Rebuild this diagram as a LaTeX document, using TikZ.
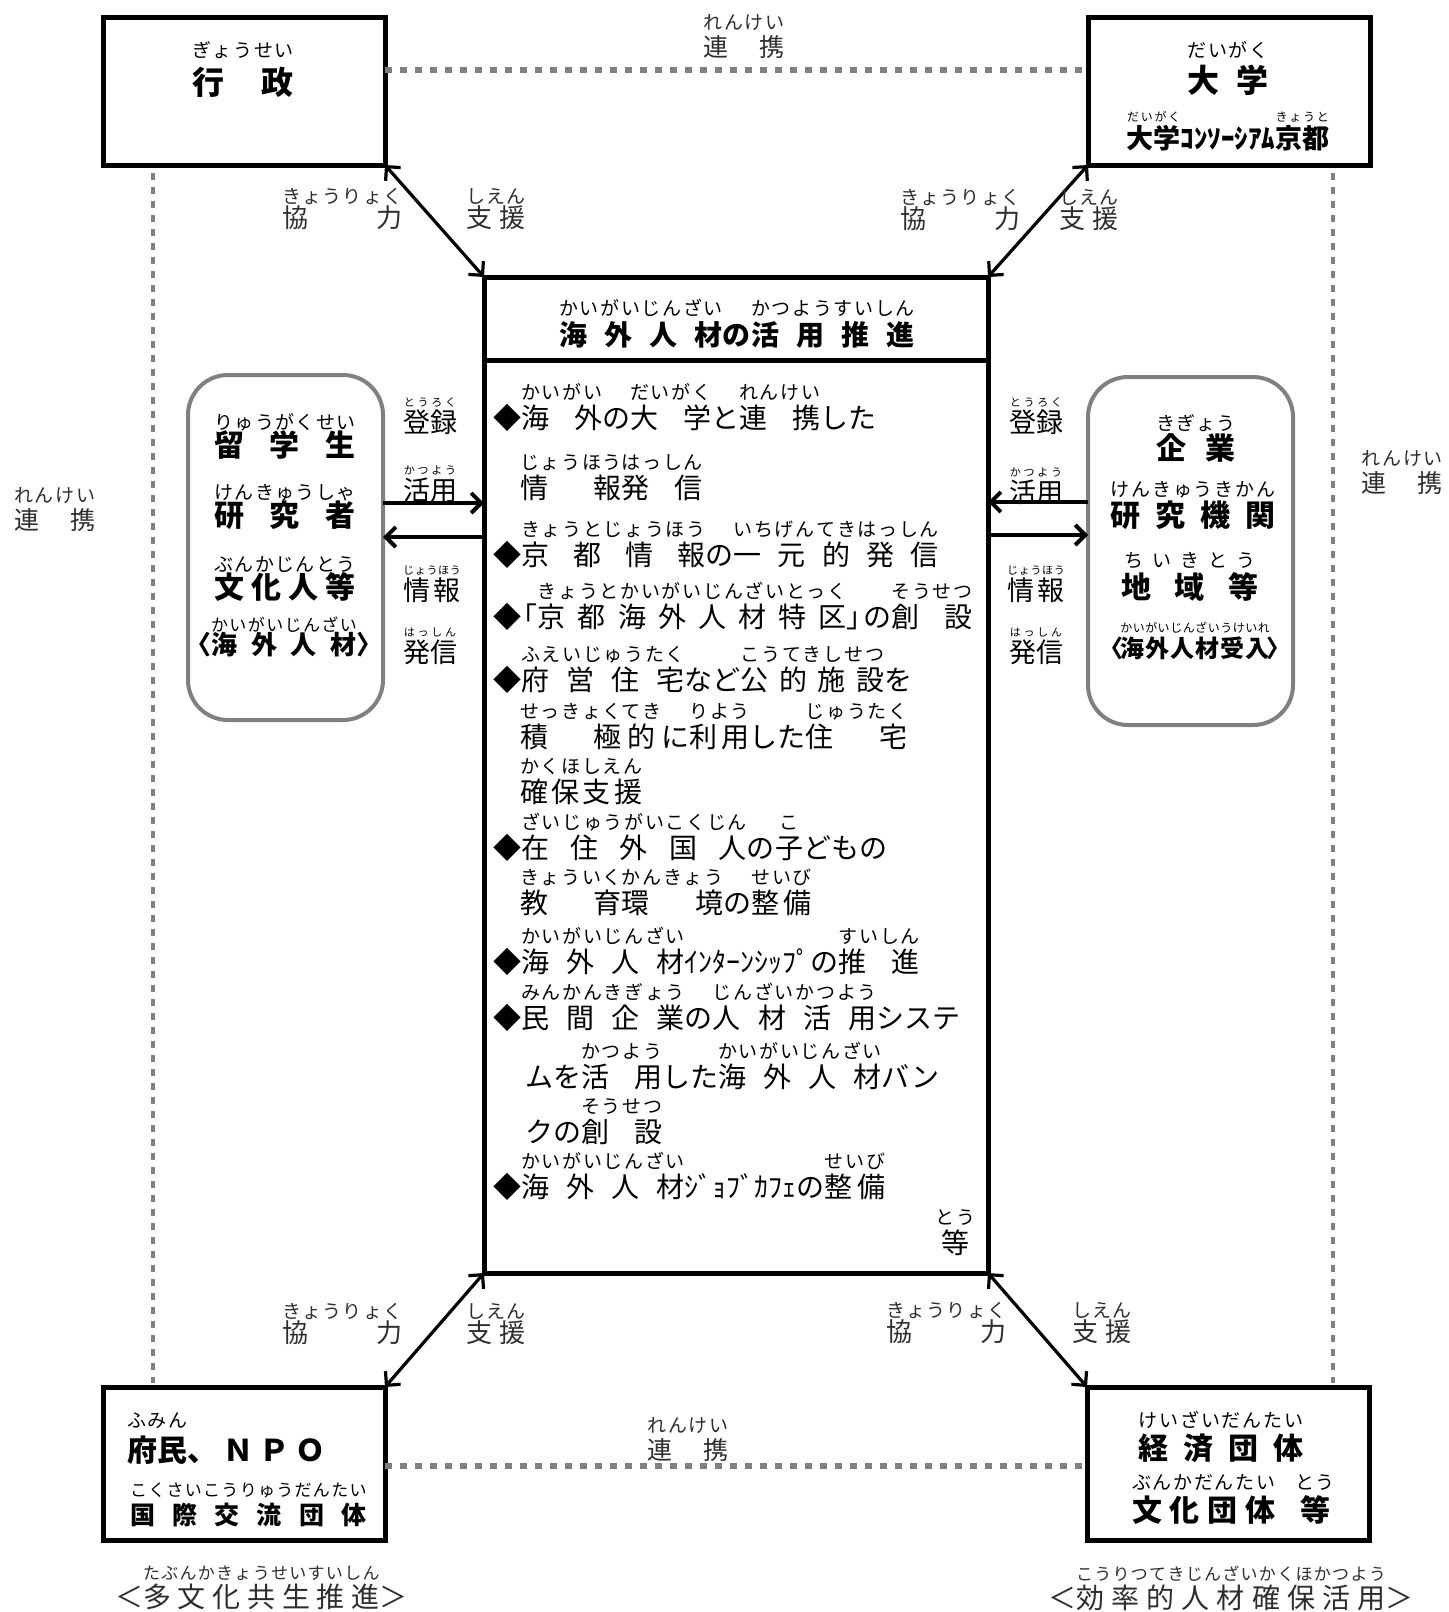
\documentclass[tikz,border=0pt]{standalone}
\usepackage{fontspec}
\setmainfont{Noto Sans CJK JP}
\usetikzlibrary{arrows.meta}
\definecolor{lgray}{HTML}{808080}
\definecolor{tgray}{HTML}{2E2E2E}
\newdimen\Rw \newdimen\rubysp \newdimen\rubyraise
\def\rubysz{8.5}
\def\rubyfnt{\normalfont\fontsize{\rubysz}{\rubysz}\selectfont}
\def\interleave#1#2{\def\ilsep{#1}\ilfirst#2\relax}
\def\ilfirst#1{\ifx#1\relax\else#1\expandafter\ilrest\fi}
\def\ilrest#1{\ifx#1\relax\else\ilsep#1\expandafter\ilrest\fi}
\newcommand\rbset[3]{\def\rubysz{#1}\rubysp=\dimexpr #2pt-#1pt\relax\rubyraise=#3pt\relax}
\newcommand\rb[3][0pt]{\leavevmode
 \setbox0\hbox{#2}%
 \setbox2\hbox{\rubyfnt\interleave{\hskip\rubysp}{#3}}%
 \Rw=#1\relax
 \ifdim\wd0>\Rw \Rw=\wd0 \fi
 \ifdim\wd2>\Rw \Rw=\wd2 \fi
 \hbox to\Rw{\rlap{\raise\rubyraise\hbox to\Rw{\rubyfnt\hskip0pt plus .5fil\interleave{\hskip\rubysp plus 1fil}{#3}\hskip0pt plus .5fil}}%
 \hskip0pt plus .001fil\interleave{\hfil}{#2}\hskip0pt plus .001fil}}
\tikzset{
 bx/.style={draw, line width=2.5pt, rectangle, inner sep=0, outer sep=0},
 rbx/.style={draw=lgray, line width=2pt, rounded corners=20pt, rectangle, inner sep=0, outer sep=0},
 txt/.style={inner sep=0, outer sep=0},
 soft/.style={txt, text=tgray},
 lst/.style={txt, anchor=base west, font=\fontsize{14}{14}\selectfont\rbset{9.5}{10.35}{14.4}},
 bigt/.style={txt, anchor=base, font=\bfseries\fontsize{15}{15}\selectfont\rbset{9.5}{10.15}{13.7}},
 labt/.style={txt, anchor=base, font=\fontsize{13.5}{13.5}\selectfont\rbset{5.5}{5.85}{13.15}},
 rent/.style={soft, anchor=base, font=\fontsize{12.5}{12.5}\selectfont\rbset{9.5}{10.5}{13.3}},
 kyot/.style={soft, anchor=base west, font=\fontsize{13}{13}\selectfont\rbset{9.5}{10.15}{12}},
 captxt/.style={soft, anchor=base west, font=\fontsize{14}{14}\selectfont\rbset{8.5}{9.15}{14.2}},
 arr/.style={line width=1.6pt, >={Straight Barb[length=5pt,width=10pt]}, <->},
 harr/.style={line width=2pt, >={Straight Barb[length=5pt,width=10pt]}, ->},
 dsh/.style={draw=lgray, line width=2.6pt, dash pattern=on 3.5pt off 4pt},
 dshv/.style={draw=lgray, line width=2.1pt, dash pattern=on 3.5pt off 3.5pt},
}
\begin{document}
\begin{tikzpicture}[x=0.5pt,y=-0.5pt]
\path[fill=white,use as bounding box] (0,0) rectangle (1448,1612);
% coordinates
\coordinate (ydiv) at (0,360);
\coordinate (ytop) at (0,70);
\coordinate (ybot) at (0,1466);
\coordinate (xl) at (153,0);
\coordinate (xr) at (1333,0);
\coordinate (ya1) at (0,503);
\coordinate (ya2) at (0,537);
\coordinate (yb1) at (0,502);
\coordinate (yb2) at (0,535);
% boxes
\node[bx, minimum width=141pt, minimum height=74pt] (gyosei) at (244,91) {};
\node[bx, minimum width=141pt, minimum height=74pt] (daigaku) at (1229,91) {};
\node[bx, minimum width=141pt, minimum height=76.5pt] (fumin) at (244,1463.5) {};
\node[bx, minimum width=141pt, minimum height=76.5pt] (keizai) at (1228,1463.5) {};
\node[bx, minimum width=252pt, minimum height=498pt] (center) at (736,775) {};
\node[rbx, minimum width=97.5pt, minimum height=172.5pt] (leftbox) at (285.5,547.5) {};
\node[rbx, minimum width=102.5pt, minimum height=174pt] (rightbox) at (1190.5,551) {};
% lines
\draw[line width=2.5pt] (center.west |- ydiv) -- (center.east |- ydiv);
\draw[arr] (center.north west) -- (gyosei.south east);
\draw[arr] (center.north east) -- (daigaku.south west);
\draw[arr] (center.south west) -- (fumin.north east);
\draw[arr] (center.south east) -- (keizai.north west);
\draw[harr] (leftbox.east |- ya1) -- (center.west |- ya1);
\draw[harr] (center.west |- ya2) -- (leftbox.east |- ya2);
\draw[harr] (rightbox.west |- yb1) -- (center.east |- yb1);
\draw[harr] (center.east |- yb2) -- (rightbox.west |- yb2);
\draw[dsh] (gyosei.east |- ytop) -- (daigaku.west |- ytop);
\draw[dsh] (fumin.east |- ybot) -- (keizai.west |- ybot);
\draw[dshv, shorten <=4pt, shorten >=2pt] (gyosei.south -| xl) -- (fumin.north -| xl);
\draw[dshv, shorten <=4pt, shorten >=2pt] (daigaku.south -| xr) -- (keizai.north -| xr);
% top boxes text
\node[bigt, font=\bfseries\fontsize{16}{16}\selectfont\rbset{9.5}{10.35}{18.6}] (gyoseiT) at (243,94.2) {\rb{行政}{ぎょうせい}};
\node[bigt, font=\bfseries\fontsize{16}{16}\selectfont\rbset{9.5}{10.35}{17.6}] (daigakuT) at (1228,92.2) {\rb{大学}{だいがく}};
\node[bigt, font=\bfseries\fontsize{13.5}{13.5}\selectfont\rbset{6}{6.5}{13.5}] (consT) at (1228,148.3) {\rb{大学}{だいがく}ｺﾝｿｰｼｱﾑ\rb{京都}{きょうと}};
% central
\node[txt, anchor=base, font=\bfseries\fontsize{14}{14}\selectfont\rbset{9.5}{10.35}{14.9}] (title) at (737,345.6) {\rb{海外人材}{かいがいじんざい}の\rb{活用推進}{かつようすいしん}};
\node[lst] (l1) at (493,428.6) {◆\rb{海外}{かいがい}の\rb{大学}{だいがく}と\rb{連携}{れんけい}した};
\node[lst] (l2) at (520,498.6) {\rb{情報}{じょうほう}\rb{発信}{はっしん}};
\node[lst] (l3) at (493,565.6) {◆\rb{京都情報}{きょうとじょうほう}の\rb{一元的発信}{いちげんてきはっしん}};
\node[lst] (l4) at (493,627.6) {◆\kern-.4em「\rb{京都海外人材特区}{きょうとかいがいじんざいとっく}」\kern-.4em の\rb{創設}{そうせつ}};
\node[lst] (l5) at (493,690.6) {◆\rb{府営住宅}{ふえいじゅうたく}など\rb{公的施設}{こうてきしせつ}を};
\node[lst] (l6) at (520,747.6) {\rb{積極}{せっきょく}\rb{的}{てき}に\rb{利用}{りよう}した\rb{住宅}{じゅうたく}};
\node[lst] (l7) at (520,802.6) {\rb{確保支援}{かくほしえん}};
\node[lst] (l8) at (493,858.6) {◆\rb{在住外国人}{ざいじゅうがいこくじん}の\rb{子}{こ}どもの};
\node[lst] (l9) at (520,913.6) {\rb{教育}{きょういく}\rb{環境}{かんきょう}の\rb{整備}{せいび}};
\node[lst] (l10) at (493,972.6) {◆\rb{海外人材}{かいがいじんざい}ｲﾝﾀｰﾝｼｯﾌﾟの\rb{推進}{すいしん}};
\node[lst] (l11) at (493,1028.6) {◆\rb{民間企業}{みんかんきぎょう}の\rb{人材活用}{じんざいかつよう}システ};
\node[lst] (l12) at (525,1087.6) {ムを\rb{活用}{かつよう}した\rb{海外人材}{かいがいじんざい}バン};
\node[lst] (l13) at (525,1142.6) {クの\rb{創設}{そうせつ}};
\node[lst] (l14) at (493,1197.6) {◆\rb{海外人材}{かいがいじんざい}ｼﾞｮﾌﾞｶﾌｪの\rb{整備}{せいび}};
\node[lst, anchor=base east] (l15) at (975,1253.6) {\rb{等}{とう}};
% left box
\node[bigt] (ryu) at (285,456.4) {\rb{留学生}{りゅうがくせい}};
\node[bigt] (ken) at (285,526.4) {\rb{研究者}{けんきゅうしゃ}};
\node[bigt] (bun) at (285,598.4) {\rb{文化人等}{ぶんかじんとう}};
\node[bigt, font=\bfseries\fontsize{13}{13}\selectfont\rbset{8.5}{9.2}{11.8}] (kaiL) at (284,654.9) {〈\rb{海外人材}{かいがいじんざい}〉};
% right box
\node[bigt, font=\bfseries\fontsize{15}{15}\selectfont\rbset{9.5}{10}{14.7}] (kig) at (1196,459.4) {\rb{企業}{きぎょう}};
\node[bigt, font=\bfseries\fontsize{15}{15}\selectfont\rbset{9.5}{10.4}{15.2}] (kenk) at (1193,526.4) {\rb{研究機関}{けんきゅうきかん}};
\node[bigt, font=\bfseries\fontsize{15}{15}\selectfont\rbset{9.5}{10.4}{15.7}] (chi) at (1190,598.4) {\rb[68.5pt]{地域等}{ちいきとう}};
\node[bigt, font=\bfseries\fontsize{12}{12}\selectfont\rbset{6}{6.25}{12.4}] (kaiR) at (1195,657.1) {〈\kern-.15em\rb{海外人材受入}{かいがいじんざいうけいれ}\kern-.15em〉};
% side labels
\node[labt] (tr1) at (430,432.3) {\rb{登録}{とうろく}};
\node[labt] (ka1) at (430,500.3) {\rb{活用}{かつよう}};
\node[labt] (jo1) at (432,600.3) {\rb{情報}{じょうほう}};
\node[labt] (ha1) at (430,662.3) {\rb{発信}{はっしん}};
\node[labt] (tr2) at (1036,432.3) {\rb{登録}{とうろく}};
\node[labt] (ka2) at (1036,502.3) {\rb{活用}{かつよう}};
\node[labt] (jo2) at (1036,600.3) {\rb{情報}{じょうほう}};
\node[labt] (ha2) at (1036,662.3) {\rb{発信}{はっしん}};
% bottom boxes text
\node[txt, anchor=base west, font=\bfseries\fontsize{15}{15}\selectfont\rbset{9.5}{10.5}{17.2}] (fuminT) at (127,1461.4) {\rb{府民}{ふみん}、\kern3pt Ｎ\kern3pt Ｐ\kern3pt Ｏ};
\node[txt, anchor=base west, font=\bfseries\fontsize{12.5}{12.5}\selectfont\rbset{8.5}{9.15}{14.2}] (kokuT) at (130,1524.5) {\rb{国際交流団体}{こくさいこうりゅうだんたい}};
\node[bigt, font=\bfseries\fontsize{15}{15}\selectfont\rbset{9.5}{10.4}{16.2}] (keiT) at (1221,1459.4) {\rb{経済団体}{けいざいだんたい}};
\node[txt, anchor=base west, font=\bfseries\fontsize{15}{15}\selectfont\rbset{9.5}{10.35}{16.2}] (bunT) at (1132,1521.4) {\rb{文化団体}{ぶんかだんたい}\kern10pt\rb{等}{とう}};
% captions
\node[captxt] (tabun) at (115,1607.6) {＜\rb{多文化共生推進}{たぶんかきょうせいすいしん}＞};
\node[captxt] (kouritsu) at (1048,1608.6) {＜\rb{効率的人材確保活用}{こうりつてきじんざいかくほかつよう}＞};
% renkei
\node[rent] (renT) at (744,56.5) {\rb{連携}{れんけい}};
\node[rent] (renL) at (55,529.5) {\rb{連携}{れんけい}};
\node[rent] (renR) at (1402,492.5) {\rb{連携}{れんけい}};
\node[rent] (renB) at (688,1459.5) {\rb{連携}{れんけい}};
% kyoryoku / shien
\node[kyot] (kyTL) at (282,227.9) {\rb{協力}{きょうりょく}};
\node[kyot] (shTL) at (466,227.9) {\rb{支援}{しえん}};
\node[kyot] (kyTR) at (900,228.9) {\rb{協力}{きょうりょく}};
\node[kyot] (shTR) at (1059,228.9) {\rb{支援}{しえん}};
\node[kyot] (kyBL) at (282,1342.9) {\rb{協力}{きょうりょく}};
\node[kyot] (shBL) at (466,1342.9) {\rb{支援}{しえん}};
\node[kyot] (kyBR) at (886,1341.9) {\rb{協力}{きょうりょく}};
\node[kyot] (shBR) at (1072,1341.9) {\rb{支援}{しえん}};
\end{tikzpicture}
\end{document}
